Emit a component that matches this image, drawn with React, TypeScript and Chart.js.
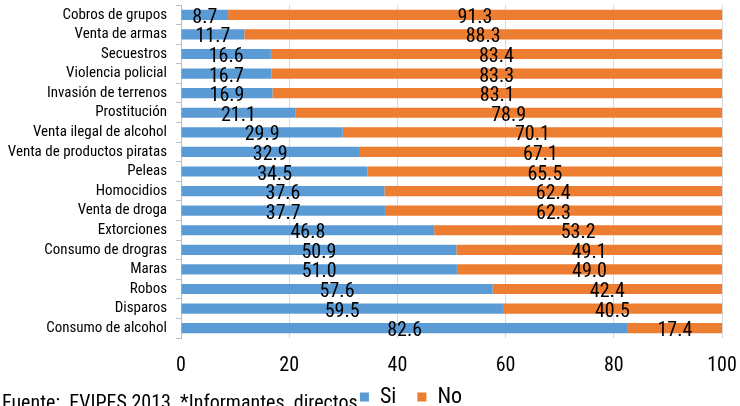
import React, { useEffect, useRef } from "react";
import { Chart, registerables } from "chart.js";

Chart.register(...registerables);

const categories = [
  "Cobros de grupos",
  "Venta de armas",
  "Secuestros",
  "Violencia policial",
  "Invasión de terrenos",
  "Prostitución",
  "Venta ilegal de alcohol",
  "Venta de productos piratas",
  "Peleas",
  "Homocidios",
  "Venta de droga",
  "Extorciones",
  "Consumo de drogras",
  "Maras",
  "Robos",
  "Disparos",
  "Consumo de alcohol",
];
const siValues = [8.7, 11.7, 16.6, 16.7, 16.9, 21.1, 29.9, 32.9, 34.5, 37.6, 37.7, 46.8, 50.9, 51.0, 57.6, 59.5, 82.6];
const noValues = [91.3, 88.3, 83.4, 83.3, 83.1, 78.9, 70.1, 67.1, 65.5, 62.4, 62.3, 53.2, 49.1, 49.0, 42.4, 40.5, 17.4];
const xTicks = [0, 20, 40, 60, 80, 100];
const sourceText = "Fuente:  EVIPES 2013  *Informantes  directos";

const FONT = "'Roboto Condensed', 'Open Sans Condensed', 'Liberation Sans', Arial, sans-serif";

const labelsPlugin = {
  id: "segLabels",
  afterDatasetsDraw(chart: any) {
    const ctx = chart.ctx;
    ctx.save();
    ctx.fillStyle = "#000";
    ctx.font = `20px ${FONT}`;
    ctx.textAlign = "center";
    ctx.textBaseline = "middle";
    chart.data.datasets.forEach((ds: any, di: number) => {
      const meta = chart.getDatasetMeta(di);
      meta.data.forEach((bar: any, i: number) => {
        const v = ds.data[i];
        const cx = (bar.x + bar.base) / 2;
        ctx.fillText(v.toFixed(1), cx, bar.y + 3);
      });
    });
    ctx.restore();
  },
};

const layoutPlugin = {
  id: "legendShift",
  afterLayout(chart: any) {
    const lg = chart.legend;
    if (!lg) return;
    const dx = 46;
    const h = lg.bottom - lg.top;
    lg.left += dx;
    lg.right += dx;
    lg.top = 365;
    lg.bottom = 365 + h;
  },
  afterDraw(chart: any) {
    const ctx = chart.ctx;
    ctx.save();
    ctx.fillStyle = "#000";
    ctx.font = `20px ${FONT}`;
    ctx.textAlign = "left";
    ctx.textBaseline = "alphabetic";
    ctx.fillText(sourceText, 2, 409);
    ctx.restore();
  },
};

export default function App() {
  const ref = useRef<HTMLCanvasElement | null>(null);
  useEffect(() => {
    if (!ref.current) return;
    const chart = new Chart(ref.current, {
      type: "bar",
      data: {
        labels: categories,
        datasets: [
          { label: "Si", data: siValues, backgroundColor: "#5B9BD5", barPercentage: 0.52, categoryPercentage: 1 },
          { label: "No", data: noValues, backgroundColor: "#ED7D31", barPercentage: 0.52, categoryPercentage: 1 },
        ],
      },
      options: {
        indexAxis: "y",
        animation: false,
        responsive: false,
        devicePixelRatio: 1,
        layout: { padding: { left: 8, right: 18, top: 5, bottom: -25 } },
        plugins: {
          legend: {
            position: "bottom",
            labels: {
              font: { family: FONT, size: 22 },
              color: "#000",
              boxWidth: 9,
              boxHeight: 9,
              padding: 21,
            },
          },
          tooltip: { enabled: false },
          title: { display: false },
        },
        scales: {
          x: {
            stacked: true,
            min: 0,
            max: 100,
            afterBuildTicks: (axis: any) => {
              axis.ticks = xTicks.map((v) => ({ value: v }));
            },
            afterFit: (axis: any) => {
              axis.height = 40;
              axis.paddingLeft = 0;
              axis.paddingRight = 0;
            },
            grid: { color: "#D9D9D9", drawTicks: false, lineWidth: 1 },
            border: { display: false },
            ticks: { font: { family: FONT, size: 20 }, color: "#000", padding: 16, maxRotation: 0 },
          },
          y: {
            stacked: true,
            afterFit: (axis: any) => {
              axis.width = 173;
              axis.paddingTop = 0;
              axis.paddingBottom = 0;
            },
            grid: { drawOnChartArea: false, drawTicks: true, tickLength: 5, color: "#BFBFBF" },
            border: { display: true, color: "#BFBFBF" },
            ticks: { font: { family: FONT, size: 15 }, color: "#000", padding: 9, autoSkip: false },
          },
        },
      },
      plugins: [labelsPlugin, layoutPlugin],
    });
    return () => chart.destroy();
  }, []);
  return (
    <div style={{ position: "fixed", left: 0, top: 0, width: 740, height: 406, background: "#fff" }}>
      <canvas ref={ref} width={740} height={406} style={{ display: "block" }} />
    </div>
  );
}
